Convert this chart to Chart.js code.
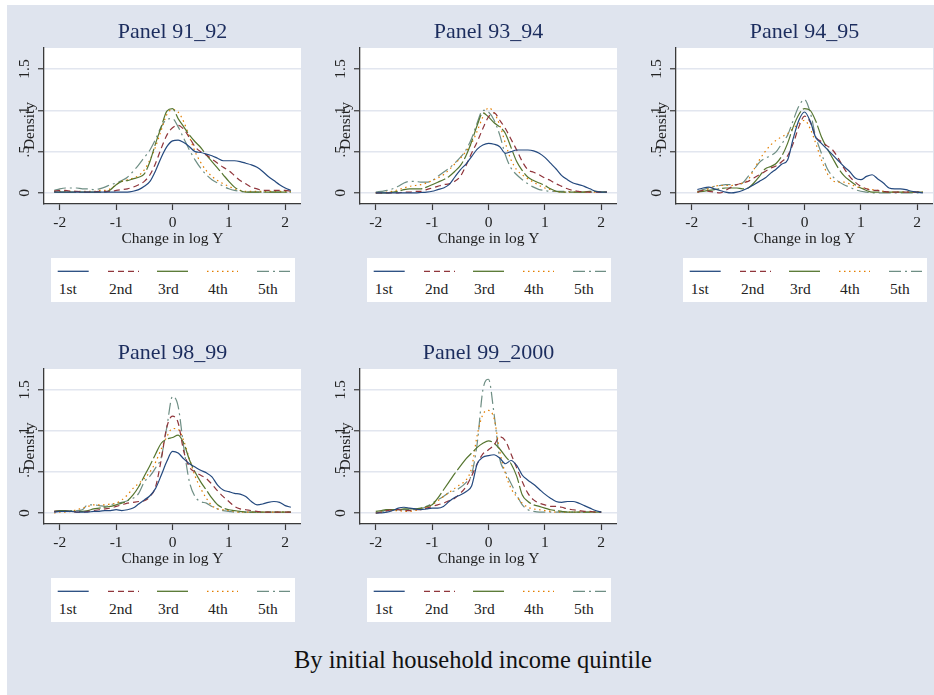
<!DOCTYPE html>
<html><head><meta charset="utf-8">
<script src="https://cdn.jsdelivr.net/npm/chart.js@4.4.1/dist/chart.umd.min.js"></script>
<style>
html,body{margin:0;padding:0;background:#fff;width:934px;height:695px;overflow:hidden;position:relative;}
#fig{position:absolute;left:7px;top:5px;width:927px;height:690px;background:#dfe4ee;}
canvas{position:absolute;}
.legend{position:absolute;background:#fff;width:244px;height:44px;}
.legend svg{position:absolute;left:0;top:0;}
.legend span{position:absolute;font-family:'Liberation Serif';font-size:15.5px;color:#222;line-height:18px;white-space:nowrap;}
#caption{position:absolute;left:0;width:946px;top:645px;text-align:center;font-family:'Liberation Serif';font-size:24.5px;line-height:30px;color:#111;}
</style></head><body>
<div id="fig"></div>
<script>
// ---------- data ----------
const quintiles = ['1st','2nd','3rd','4th','5th'];
const panelTitles = ['Panel 91_92','Panel 93_94','Panel 94_95','Panel 98_99','Panel 99_2000'];
const xTickVals = [-2,-1,0,1,2];
const xTickLabels = ['-2','-1','0','1','2'];
const yTickVals = [0,0.5,1,1.5];
const yTickLabels = ['0','.5','1','1.5'];
const xGrid = [-2.1,-2.0,-1.9,-1.8,-1.7,-1.6,-1.5,-1.4,-1.3,-1.2,-1.1,-1.0,-0.9,-0.8,-0.7,-0.6,-0.5,-0.4,-0.3,-0.2,-0.1,0,0.1,0.2,0.3,0.4,0.5,0.6,0.7,0.8,0.9,1.0,1.1,1.2,1.3,1.4,1.5,1.6,1.7,1.8,1.9,2.0,2.1];

const p9192_1st = [0.01,0.01,0.01,0.01,0.01,0.01,0.01,0.01,0.01,0.01,0.01,0.01,0.01,0.01,0.02,0.04,0.08,0.14,0.27,0.43,0.56,0.63,0.64,0.61,0.56,0.5,0.49,0.47,0.45,0.42,0.39,0.39,0.39,0.38,0.36,0.34,0.31,0.26,0.2,0.15,0.1,0.06,0.03];
const p9192_2nd = [0.02,0.03,0.03,0.02,0.02,0.01,0.01,0.01,0.02,0.02,0.02,0.03,0.04,0.05,0.07,0.1,0.14,0.22,0.36,0.54,0.7,0.79,0.82,0.77,0.67,0.56,0.5,0.46,0.41,0.36,0.31,0.27,0.21,0.15,0.11,0.07,0.05,0.03,0.03,0.03,0.03,0.03,0.02];
const p9192_3rd = [0.01,0.01,0.01,0.01,0.01,0.01,0.01,0.01,0.01,0.01,0.04,0.1,0.14,0.15,0.17,0.19,0.23,0.38,0.6,0.8,0.99,1.02,0.9,0.8,0.7,0.62,0.55,0.46,0.38,0.3,0.22,0.14,0.07,0.03,0.01,0.01,0.01,0.01,0.01,0.01,0.01,0.01,0.01];
const p9192_4th = [0.02,0.02,0.02,0.02,0.02,0.02,0.02,0.02,0.03,0.03,0.05,0.1,0.14,0.16,0.18,0.21,0.28,0.4,0.56,0.76,0.95,1.01,0.98,0.86,0.68,0.5,0.37,0.27,0.2,0.15,0.11,0.08,0.05,0.03,0.02,0.02,0.02,0.02,0.02,0.02,0.02,0.02,0.02];
const p9192_5th = [0.03,0.05,0.06,0.06,0.06,0.05,0.05,0.04,0.05,0.07,0.1,0.12,0.15,0.19,0.26,0.34,0.43,0.52,0.65,0.8,0.89,0.9,0.8,0.66,0.52,0.4,0.3,0.22,0.16,0.12,0.08,0.05,0.03,0.02,0.01,0.01,0.01,0.01,0.01,0.01,0.01,0.01,0.01];

const p9394_1st = [null,0,0,0,0,0,0,0,0,0.005,0.01,0.02,0.04,0.06,0.1,0.19,0.28,0.35,0.44,0.53,0.58,0.6,0.59,0.56,0.48,0.5,0.52,0.52,0.52,0.51,0.48,0.43,0.36,0.29,0.21,0.16,0.12,0.1,0.08,0.05,0.02,0.01,0.01];
const p9394_2nd = [null,0,0,0,0,0,0.01,0.01,0.02,0.02,0.04,0.06,0.08,0.1,0.11,0.14,0.2,0.33,0.48,0.62,0.78,0.92,0.97,0.88,0.78,0.65,0.52,0.38,0.28,0.25,0.22,0.18,0.15,0.11,0.08,0.05,0.03,0.02,0.01,0.01,0.01,0.01,0.01];
const p9394_3rd = [null,0,0,0,0.01,0.02,0.04,0.05,0.05,0.05,0.07,0.1,0.13,0.16,0.2,0.26,0.33,0.45,0.62,0.82,0.97,0.92,0.85,0.8,0.72,0.55,0.38,0.27,0.19,0.15,0.12,0.09,0.05,0.02,0.01,0.01,0.01,0.01,0.01,0.02,0.02,0.01,0.01];
const p9394_4th = [null,0,0,0.01,0.02,0.04,0.06,0.08,0.09,0.1,0.12,0.15,0.18,0.22,0.28,0.35,0.42,0.5,0.6,0.75,0.92,1.03,0.97,0.82,0.6,0.4,0.28,0.22,0.17,0.13,0.09,0.06,0.04,0.02,0.01,0.01,0.01,0.01,0.01,0.01,0.01,0.01,0.01];
const p9394_5th = [null,0.01,0.02,0.03,0.05,0.08,0.12,0.14,0.14,0.13,0.13,0.15,0.2,0.25,0.3,0.36,0.43,0.52,0.66,0.85,1.0,0.98,0.88,0.7,0.46,0.3,0.22,0.16,0.11,0.07,0.04,0.03,0.02,0.02,0.02,0.02,0.01,0.01,0.01,0.01,0.01,0.01,0.01];

const p9495_1st = [null,null,0.04,0.06,0.07,0.05,0.03,0.01,0,0.01,0.03,0.06,0.1,0.14,0.18,0.24,0.29,0.35,0.4,0.66,0.88,0.98,0.87,0.67,0.6,0.53,0.46,0.39,0.32,0.26,0.18,0.16,0.2,0.22,0.17,0.12,0.06,0.05,0.05,0.04,0.02,0.01,0];
const p9495_2nd = [null,null,0.01,0.03,0.02,0.01,0,0.03,0.07,0.1,0.12,0.14,0.18,0.22,0.26,0.3,0.33,0.38,0.45,0.6,0.8,0.93,0.86,0.68,0.62,0.57,0.52,0.42,0.3,0.2,0.13,0.08,0.05,0.03,0.03,0.02,0.01,0.01,0.01,0.01,0.01,0.01,0.01];
const p9495_3rd = [null,null,0.01,0.02,0.03,0.04,0.05,0.06,0.06,0.06,0.05,0.06,0.12,0.2,0.29,0.32,0.36,0.45,0.6,0.8,0.95,1.02,1.0,0.87,0.68,0.54,0.42,0.3,0.21,0.15,0.1,0.06,0.03,0.01,0.01,0.01,0.01,0.01,0.01,0.01,0.01,0.01,0.01];
const p9495_4th = [null,null,0.01,0.03,0.05,0.08,0.09,0.09,0.09,0.1,0.12,0.16,0.28,0.4,0.5,0.58,0.64,0.68,0.72,0.78,0.84,0.88,0.78,0.6,0.4,0.24,0.15,0.13,0.13,0.11,0.08,0.06,0.05,0.04,0.03,0.02,0.01,0.01,0.01,0.01,0.01,0.01,0.01];
const p9495_5th = [null,null,0.02,0.04,0.06,0.08,0.09,0.1,0.1,0.1,0.12,0.2,0.28,0.37,0.42,0.45,0.5,0.6,0.7,0.88,1.05,1.13,0.98,0.68,0.48,0.3,0.2,0.14,0.1,0.07,0.04,0.02,0.01,0,0,0,0,0,0,0,0,0,0];

const p9899_1st = [0.01,0.02,0.02,0.02,0.01,0.01,0.01,0.02,0.02,0.03,0.03,0.04,0.03,0.04,0.06,0.11,0.16,0.21,0.3,0.46,0.63,0.75,0.73,0.66,0.6,0.56,0.52,0.49,0.44,0.34,0.28,0.26,0.24,0.23,0.2,0.14,0.1,0.11,0.13,0.14,0.13,0.09,0.07];
const p9899_2nd = [0.02,0.02,0.02,0.02,0.01,0.01,0.02,0.03,0.04,0.05,0.06,0.08,0.1,0.12,0.13,0.14,0.15,0.2,0.32,0.65,1.05,1.18,1.1,0.75,0.56,0.5,0.46,0.42,0.35,0.27,0.2,0.14,0.08,0.05,0.04,0.03,0.02,0.01,0.01,0.01,0.01,0.01,0.01];
const p9899_3rd = [0.02,0.03,0.03,0.02,0.02,0.02,0.03,0.05,0.06,0.07,0.08,0.1,0.12,0.15,0.22,0.32,0.45,0.58,0.72,0.85,0.9,0.92,0.95,0.85,0.65,0.5,0.38,0.28,0.18,0.1,0.06,0.04,0.03,0.02,0.01,0.01,0.01,0.01,0.01,0.01,0.01,0.01,0.01];
const p9899_4th = [0,0.01,0.01,0.02,0.04,0.06,0.08,0.1,0.1,0.1,0.11,0.12,0.16,0.22,0.3,0.36,0.42,0.5,0.62,0.78,0.93,1.03,1.02,0.88,0.66,0.45,0.3,0.18,0.09,0.05,0.04,0.03,0.02,0.01,0.01,0.01,0.01,0.01,0.01,0.01,0.01,0.01,0.01];
const p9899_5th = [0.02,0.03,0.03,0.03,0.03,0.04,0.1,0.1,0.09,0.08,0.1,0.12,0.13,0.15,0.18,0.24,0.38,0.45,0.55,0.68,1.05,1.42,1.3,0.8,0.38,0.2,0.14,0.12,0.08,0.05,0.03,0.02,0.01,0.01,0.01,0.01,0.01,0.01,0.01,0.01,0.01,0.01,0.01];

const p9900_1st = [null,0,0,0.01,0.03,0.06,0.07,0.06,0.05,0.04,0.05,0.06,0.06,0.08,0.14,0.19,0.22,0.26,0.33,0.6,0.68,0.7,0.71,0.67,0.6,0.64,0.58,0.46,0.4,0.35,0.29,0.23,0.18,0.14,0.13,0.14,0.14,0.12,0.09,0.06,0.03,0.01,null];
const p9900_2nd = [null,0,0.01,0.03,0.04,0.04,0.03,0.03,0.04,0.04,0.06,0.08,0.1,0.12,0.15,0.18,0.24,0.32,0.45,0.6,0.72,0.77,0.83,0.93,0.88,0.72,0.55,0.38,0.24,0.16,0.12,0.1,0.08,0.08,0.07,0.05,0.04,0.03,0.02,0.02,0.01,0.01,null];
const p9900_3rd = [null,0.02,0.03,0.04,0.04,0.04,0.05,0.05,0.05,0.06,0.08,0.1,0.18,0.28,0.38,0.48,0.57,0.66,0.73,0.8,0.85,0.88,0.85,0.78,0.69,0.6,0.45,0.22,0.14,0.1,0.08,0.06,0.04,0.03,0.02,0.01,0.01,0.01,0.01,0.01,0.01,0.01,null];
const p9900_4th = [null,0,0.01,0.03,0.03,0.03,0.02,0.02,0.03,0.05,0.07,0.1,0.15,0.2,0.25,0.3,0.35,0.4,0.55,0.95,1.2,1.25,1.15,0.75,0.48,0.3,0.2,0.12,0.07,0.05,0.04,0.03,0.02,0.01,0.01,0.01,0.01,0.01,0.01,0.01,0.01,0.01,null];
const p9900_5th = [null,0,0.01,0.04,0.04,0.04,0.04,0.04,0.04,0.05,0.08,0.12,0.16,0.2,0.25,0.27,0.31,0.37,0.47,0.85,1.5,1.63,1.2,0.66,0.5,0.36,0.22,0.1,0.04,0.02,0.01,0.01,0.01,0.01,0.01,0.01,0.01,0.01,0.01,0.01,0.01,0.01,null];

const panelSeries = [
  [p9192_1st,p9192_2nd,p9192_3rd,p9192_4th,p9192_5th],
  [p9394_1st,p9394_2nd,p9394_3rd,p9394_4th,p9394_5th],
  [p9495_1st,p9495_2nd,p9495_3rd,p9495_4th,p9495_5th],
  [p9899_1st,p9899_2nd,p9899_3rd,p9899_4th,p9899_5th],
  [p9900_1st,p9900_2nd,p9900_3rd,p9900_4th,p9900_5th]
];

// ---------- style / layout ----------
const FONT = "'Liberation Serif', 'Times New Roman', serif";
const colors = ['#24497e','#90353b','#55752f','#e37e00','#6e8e84'];
const dashes = [[],[6,4],[22,3],[1.5,3.5],[12,4,2,4]];
const svgDash = ['', '6 4', '', '1.5 3.5', '12 4 2 4'];
const layoutPos = [
  {L:44, T:48, B:204},
  {L:360, T:48, B:204},
  {L:676, T:48, B:204},
  {L:44, T:369, B:524},
  {L:360, T:369, B:524}
];
const PW = 257, YW = 36, TH = 28, XH = 44;
Chart.defaults.font.family = FONT;

const plotBg = {id:'plotBg', beforeDraw(chart){
  const {ctx, chartArea:a} = chart;
  ctx.save(); ctx.fillStyle = '#ffffff';
  ctx.fillRect(a.left, a.top, a.right - a.left, a.bottom - a.top);
  ctx.restore();
}};

layoutPos.forEach((p, k) => {
  const cv = document.createElement('canvas');
  const w = YW + PW, h = TH + (p.B - p.T) + XH;
  cv.width = w; cv.height = h;
  cv.style.left = (p.L - YW) + 'px'; cv.style.top = (p.T - TH) + 'px';
  cv.style.width = w + 'px'; cv.style.height = h + 'px';
  document.body.appendChild(cv);

  const datasets = panelSeries[k].map((arr, i) => ({
    label: quintiles[i],
    data: xGrid.map((x, j) => ({x: x, y: arr[j]})),
    borderColor: colors[i], borderWidth: 1.2, borderDash: dashes[i],
    pointRadius: 0, fill: false, cubicInterpolationMode: 'monotone', spanGaps: false
  }));

  new Chart(cv, {
    type: 'line',
    data: {datasets},
    plugins: [plotBg],
    options: {
      responsive: false, animation: false, devicePixelRatio: 1,
      layout: {padding: 0},
      plugins: {
        legend: {display: false}, tooltip: {enabled: false},
        title: {display: true, text: panelTitles[k], fullSize: false, color: '#1c2d5e',
          font: {family: FONT, size: 22, lineHeight: '25px', weight: 'normal'},
          padding: {top: 0, bottom: 3}}
      },
      scales: {
        x: {
          type: 'linear', min: -2.28, max: 2.28,
          afterBuildTicks: s => { s.ticks = xTickVals.map(v => ({value: v})); },
          afterFit: s => { s.height = XH; },
          ticks: {callback: v => xTickLabels[xTickVals.indexOf(v)], color: '#222', padding: 4, maxRotation: 0,
            font: {family: FONT, size: 15.5, lineHeight: 1.2}},
          grid: {drawOnChartArea: false, drawTicks: true, tickLength: 6, tickColor: '#3a3a3a', tickWidth: 1.2},
          border: {color: '#3a3a3a', width: 1.3},
          title: {display: true, text: 'Change in log Y', color: '#222',
            font: {family: FONT, size: 15.5, lineHeight: '17px'}, padding: {top: 0, bottom: 0.5}}
        },
        y: {
          type: 'linear', min: -0.134, max: 1.755,
          afterBuildTicks: s => { s.ticks = yTickVals.map(v => ({value: v})); },
          afterFit: s => { s.width = YW; },
          ticks: {callback: v => yTickLabels[yTickVals.indexOf(v)], color: '#222', padding: 3,
            minRotation: 90, maxRotation: 90, crossAlign: 'center',
            font: {family: FONT, size: 15.5, lineHeight: 1.2}},
          grid: {color: '#e2e6ef', lineWidth: 1.5, drawTicks: true, tickLength: 6, tickColor: '#3a3a3a', tickWidth: 1.2},
          border: {color: '#3a3a3a', width: 1.3},
          title: {display: true, text: 'Density', color: '#222',
            font: {family: FONT, size: 15.5, lineHeight: '17px'}, padding: {top: 13.5, bottom: 0}}
        }
      }
    }
  });

  // legend
  const lg = document.createElement('div');
  lg.className = 'legend';
  lg.style.left = (p.L + 7) + 'px';
  lg.style.top = (p.B + 54) + 'px';
  const cols = [6.7, 57, 106, 156, 206];
  let svg = '<svg width="244" height="44" xmlns="http://www.w3.org/2000/svg">';
  quintiles.forEach((q, i) => {
    const len = i === 4 ? 33 : 31;
    svg += '<line x1="' + cols[i] + '" y1="13.3" x2="' + (cols[i] + len) + '" y2="13.3" stroke="' + colors[i] +
      '" stroke-width="1.3"' + (svgDash[i] ? ' stroke-dasharray="' + svgDash[i] + '"' : '') + '/>';
  });
  svg += '</svg>';
  lg.innerHTML = svg;
  quintiles.forEach((q, i) => {
    const sp = document.createElement('span');
    sp.textContent = q;
    sp.style.left = (cols[i] + 1) + 'px';
    sp.style.top = '21.5px';
    lg.appendChild(sp);
  });
  document.body.appendChild(lg);
});

const cap = document.createElement('div');
cap.id = 'caption';
cap.textContent = 'By initial household income quintile';
document.body.appendChild(cap);
</script>
</body></html>
